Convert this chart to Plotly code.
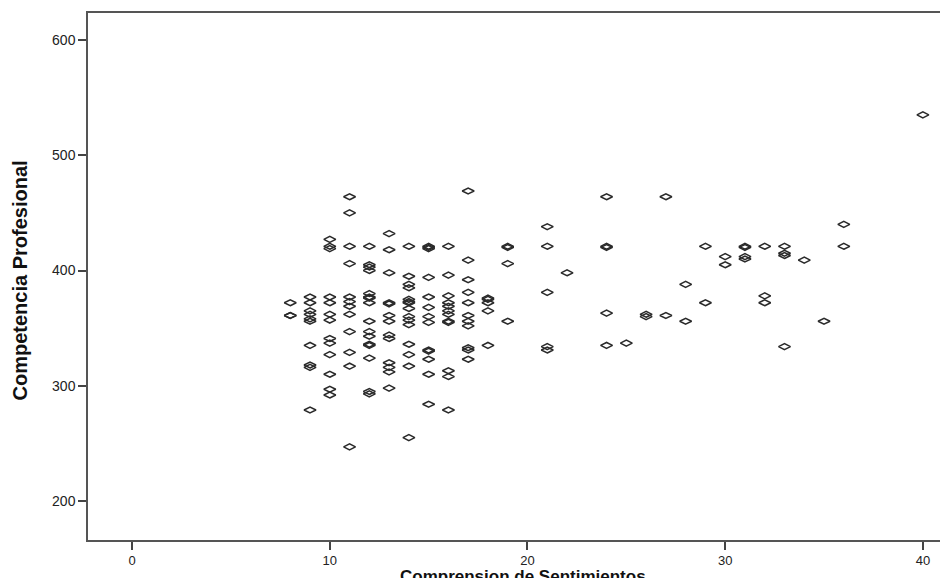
import plotly.graph_objects as go

# Data (x = Comprension de Sentimientos, y = Competencia Profesional)
comprension = (
    [8] * 3 + [9] * 10 + [10] * 13 + [11] * 12 + [12] * 16 + [13] * 13 + [14] * 15
    + [15] * 13 + [16] * 12 + [17] * 11 + [18] * 5 + [19] * 4 + [21] * 5 + [22]
    + [24] * 5 + [25] + [26] * 2 + [27] * 2 + [28] * 2 + [29] * 2 + [30] * 2
    + [31] * 4 + [32] * 3 + [33] * 4 + [34] + [35] + [36] * 2 + [40]
)
competencia = [
    372, 361, 361,
    377, 372, 365, 362, 358, 356, 335, 318, 316, 279,
    427, 421, 419, 377, 372, 362, 357, 341, 337, 327, 310, 297, 292,
    464, 450, 421, 406, 377, 373, 369, 362, 347, 329, 317, 247,
    421, 405, 403, 400, 380, 377, 376, 372, 356, 347, 343, 336, 335, 324, 295, 293,
    432, 418, 398, 372, 371, 361, 356, 344, 341, 320, 316, 312, 298,
    421, 395, 388, 385, 375, 373, 372, 367, 360, 357, 353, 336, 327, 317, 255,
    421, 420, 419, 394, 377, 368, 360, 355, 331, 330, 323, 310, 284,
    421, 396, 378, 372, 369, 365, 362, 356, 355, 313, 308, 279,
    469, 409, 392, 381, 372, 361, 356, 352, 333, 331, 323,
    376, 375, 372, 365, 335,
    421, 420, 406, 356,
    438, 421, 381, 334, 331,
    398,
    464, 421, 420, 363, 335,
    337,
    362, 360,
    464, 361,
    388, 356,
    421, 372,
    412, 405,
    421, 420, 412, 410,
    421, 378, 372,
    421, 415, 413, 334,
    409,
    356,
    440, 421,
    535,
]

x_ticks = [0, 10, 20, 30, 40]
y_ticks = [200, 300, 400, 500, 600]

fig = go.Figure()
fig.add_trace(go.Scatter(
    x=comprension, y=competencia, mode="markers",
    marker=dict(symbol="diamond-wide-open", size=8.5, color="#2a2a2a",
                line=dict(width=1.5, color="#2a2a2a")),
    showlegend=False, hoverinfo="x+y",
))

fig.update_layout(
    width=940, height=570,
    margin=dict(l=80, r=0, t=5, b=38),
    paper_bgcolor="white", plot_bgcolor="white",
    xaxis=dict(
        range=[-2.23, 41.27], tickvals=x_ticks, ticks="outside", ticklen=8,
        tickwidth=1.5, tickcolor="#444444",
        showline=True, mirror=True, linecolor="#555555", linewidth=1.5,
        showgrid=False, zeroline=False, automargin=False,
        tickfont=dict(family="Liberation Sans Narrow, Liberation Sans, Arial, sans-serif",
                      size=13, color="#222222"),
    ),
    yaxis=dict(
        range=[166.2, 623.4], tickvals=y_ticks, ticks="outside", ticklen=8,
        tickwidth=1.5, tickcolor="#444444",
        showline=True, mirror=True, linecolor="#555555", linewidth=1.5,
        showgrid=False, zeroline=False, automargin=False,
        tickfont=dict(family="Liberation Sans, Arial, sans-serif", size=14, color="#222222"),
    ),
    annotations=[
        dict(text="<b>Competencia Profesional</b>", textangle=-90,
             xref="paper", yref="paper", x=0, y=0.5, xanchor="center", yanchor="middle",
             xshift=-69, yshift=-4, showarrow=False,
             font=dict(family="Liberation Sans Narrow, Liberation Sans, Arial, sans-serif",
                       size=20, color="#111111")),
        dict(text="<b>Comprension de Sentimientos</b>",
             xref="paper", yref="paper", x=0.5, y=0, xanchor="center", yanchor="top",
             xshift=5, yshift=-25, showarrow=False,
             font=dict(family="Liberation Sans, Arial, sans-serif", size=17, color="#111111")),
    ],
)

fig.write_html("out.html")
